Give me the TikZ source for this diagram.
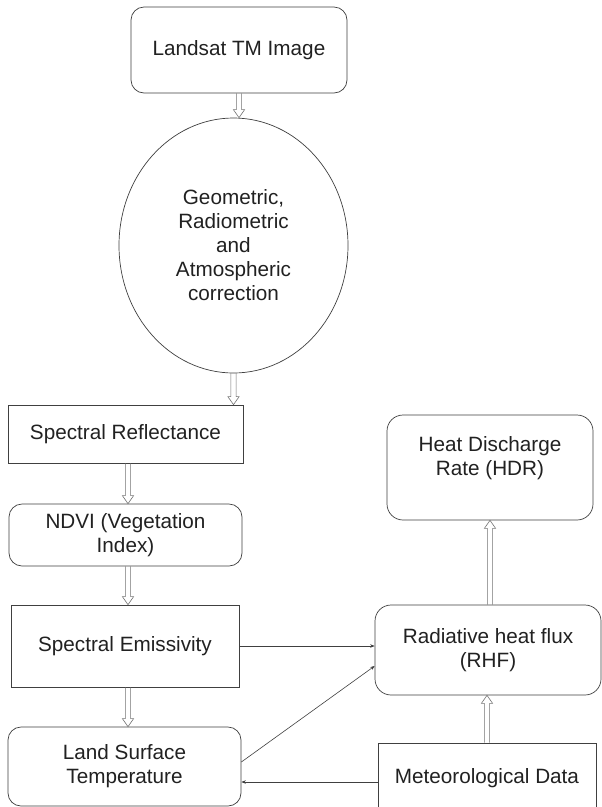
\documentclass[tikz,border=0pt]{standalone}
\usepackage{fontspec}
\setmainfont{Liberation Sans}
\usetikzlibrary{shapes.geometric,arrows.meta,calc}
\definecolor{ink}{rgb}{0.13,0.13,0.13}
\definecolor{edge}{rgb}{0.25,0.25,0.25}
\definecolor{hollowc}{rgb}{0.45,0.45,0.45}
\tikzset{
  base/.style={draw=edge, line width=0.7pt, text=ink, align=center, inner sep=0pt,
    font=\fontsize{20.7}{24}\selectfont},
  rbox/.style={base, rectangle, rounded corners=13pt},
  sbox/.style={base, rectangle},
  oval/.style={base, ellipse},
  hollow/.style={draw=hollowc, line width=0.6pt, line join=miter,
    to path={let \p1=(\tikztostart), \p2=(\tikztotarget), \n1={sign(\y2-\y1)} in
      (\x1-2.6pt,\y1) -- (\x1-2.6pt,\y2-\n1*8pt) -- (\x1-5.6pt,\y2-\n1*8pt) -- (\x1,\y2)
      -- (\x1+5.6pt,\y2-\n1*8pt) -- (\x1+2.6pt,\y2-\n1*8pt) -- (\x1+2.6pt,\y1)}},
  thin/.style={draw=edge, line width=0.6pt, -{Stealth[length=4.5pt,width=3.5pt]}}
}
\begin{document}
\begin{tikzpicture}[x=1pt,y=-1pt]
\clip (0,0) rectangle (602,807);
\fill[white] (0,0) rectangle (602,807);
\node[rbox, minimum width=216pt, minimum height=86pt] (land) at (239,50) {Landsat TM Image};
\node[oval, minimum width=229pt, minimum height=255pt] (ell) at (233.5,245.5)
  {Geometric,\\Radiometric\\and\\Atmospheric\\correction};
\node[sbox, minimum width=235pt, minimum height=58pt] (refl) at (125.5,434) {Spectral Reflectance};
\node[rbox, minimum width=233pt, minimum height=62pt] (ndvi) at (125.5,535) {NDVI (Vegetation\\Index)};
\node[sbox, minimum width=228pt, minimum height=82pt] (emis) at (125,646) {Spectral Emissivity};
\node[rbox, minimum width=233pt, minimum height=79pt] (lst) at (124.5,766.5) {Land Surface\\Temperature};
\node[rbox, rounded corners=16pt, minimum width=206pt, minimum height=105pt] (hdr) at (490,467.5)
  {Heat Discharge\\Rate (HDR)\\~};
\node[rbox, rounded corners=16pt, minimum width=226pt, minimum height=90pt] (rhf) at (488,650)
  {Radiative heat flux\\(RHF)};
\node[sbox, minimum width=218pt, minimum height=70pt] (met) at (487,778) {Meteorological Data};

\draw[hollow] (land.south) to (land.south |- ell.north);
\draw[hollow] (ell.south) to (ell.south |- refl.north);
\draw[hollow] ([xshift=2.5pt]refl.south) to ([xshift=2.5pt]refl.south |- ndvi.north);
\draw[hollow] ([xshift=2.5pt]ndvi.south) to ([xshift=2.5pt]ndvi.south |- emis.north);
\draw[hollow] ([xshift=3pt]emis.south) to ([xshift=3pt]emis.south |- lst.north);
\draw[hollow] ([xshift=2pt]rhf.north) to ([xshift=2pt]rhf.north |- hdr.south);
\draw[hollow] (met.north) to (met.north |- rhf.south);

\draw[thin] (emis.east) -- (emis.east -| rhf.west);
\draw[thin] ([yshift=4.5pt]lst.east) -- ([yshift=-16pt]rhf.west);
\draw[thin] ([yshift=-4pt]met.west) -- ([yshift=-4pt]met.west -| lst.east);
\end{tikzpicture}
\end{document}
